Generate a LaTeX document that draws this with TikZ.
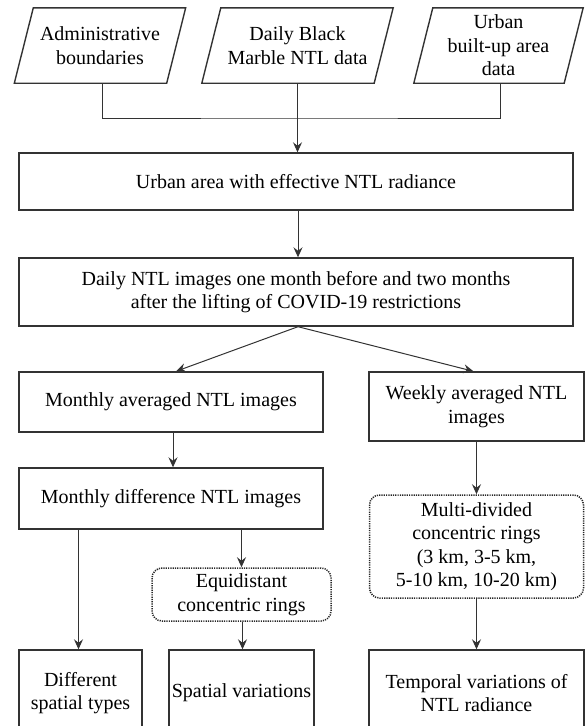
\documentclass[tikz,border=0pt]{standalone}
\usepackage{fontspec}
\setmainfont{Liberation Serif}
\usetikzlibrary{arrows.meta,positioning}
\begin{document}
\begin{tikzpicture}[x=1pt,y=-1pt,
  txt/.style={font=\fontsize{20}{23.5}\selectfont, align=center, inner sep=0pt, text=black},
  boxn/.style={txt, draw=black!80, line width=1.4pt, rectangle},
  dotbox/.style={txt, draw=black!85, line width=1.5pt, dash pattern=on 1.2pt off 1.1pt, rounded corners=10pt},
  para/.style={txt},
  conn/.style={draw=black!80, line width=1pt},
  arr/.style={conn, -{Stealth[length=10pt,width=9pt,inset=3.5pt]}}]
\useasboundingbox (0,0) rectangle (586,726);
\clip (0,0) rectangle (586,726);
% parallelograms (text nodes, outline drawn below)
\node[para, minimum width=171, minimum height=75] (p1) at (100,45.5) {Administrative\\boundaries};
\node[para, minimum width=191, minimum height=75] (p2) at (297.5,45.5) {Daily Black\\Marble NTL data};
\node[para, minimum width=169, minimum height=75] (p3) at (498.5,45.5) {Urban\\built-up area\\data};
\foreach \p in {p1,p2,p3}{
  \draw[draw=black!80, line width=1.4pt, line join=miter]
    (\p.south west) -- ([xshift=19pt]\p.north west) -- (\p.north east)
    -- ([xshift=-19pt]\p.south east) -- cycle;
}
% boxes
\node[boxn, minimum width=554, minimum height=57] (b1) at (296,181.5) {Urban area with effective NTL radiance};
\node[boxn, minimum width=554, minimum height=68] (b2) at (296,292) {Daily NTL images one month before and two months\\after the lifting of COVID-19 restrictions};
\node[boxn, minimum width=304, minimum height=60] (m1) at (171,402) {Monthly averaged NTL images};
\node[boxn, minimum width=215, minimum height=69] (w1) at (476.5,406.5) {Weekly averaged NTL\\images};
\node[boxn, minimum width=304, minimum height=61] (m2) at (171,498.5) {Monthly difference NTL images};
\node[dotbox, minimum width=214, minimum height=103] (ring) at (476.5,546.5) {Multi-divided\\concentric rings\\(3 km, 3-5 km,\\5-10 km, 10-20 km)};
\node[dotbox, minimum width=179, minimum height=53] (eq) at (241.5,594.5) {Equidistant\\concentric rings};
\node[boxn, minimum width=123, minimum height=86] (d) at (80.5,693) {Different\\spatial types};
\node[boxn, minimum width=145, minimum height=86] (s) at (241.5,693) {Spatial variations};
\node[boxn, minimum width=215, minimum height=86] (t) at (476.5,693) {Temporal variations of\\NTL radiance};
% connectors
\coordinate (j) at (297.5,118);
\draw[conn] ([xshift=2pt]p1.south) |- (j) -| ([xshift=2pt]p3.south);
\draw[arr] (p2.south) -- (p2.south |- b1.north);
\draw[arr] ([xshift=2pt]b1.south) -- ([xshift=2pt]b2.north);
\draw[arr] ([xshift=2pt]b2.south) -- ([xshift=5pt]m1.north);
\draw[arr] ([xshift=2pt]b2.south) -- ([xshift=-3pt]w1.north);
\draw[arr] ([xshift=2pt]m1.south) -- ([xshift=2pt]m2.north);
\draw[arr] ([xshift=-2pt]d.north |- m2.south) -- ([xshift=-2pt]d.north);
\draw[arr] (eq.north |- m2.south) -- (eq.north);
\draw[arr] ([xshift=1pt]eq.south) -- ([xshift=1pt]eq.south |- s.north);
\draw[arr] (w1.south) -- (ring.north);
\draw[arr] (ring.south) -- (t.north);
\end{tikzpicture}
\end{document}
